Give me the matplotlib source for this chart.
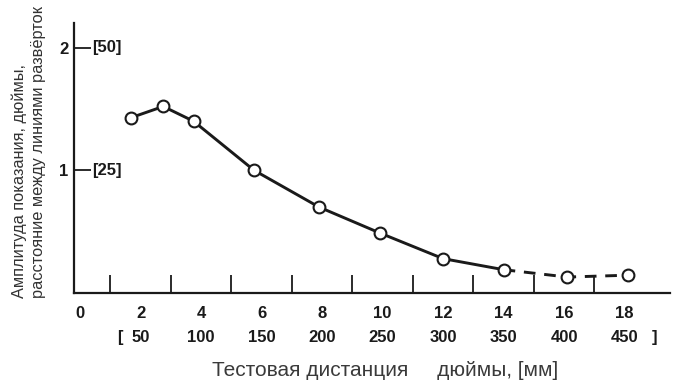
import matplotlib.pyplot as plt
import matplotlib.transforms as mtransforms

plt.rcParams['font.family'] = ['Liberation Sans', 'DejaVu Sans']

# Measured points (inches / amplitude)
dist_in = [1.7, 2.75, 3.75, 5.75, 7.9, 9.9, 12.0, 14.0, 16.1, 18.1]
amp = [1.43, 1.52, 1.40, 1.00, 0.70, 0.49, 0.28, 0.19, 0.13, 0.145]
n_solid = 8  # solid curve up to 14 in, dashed after

even_ticks = [0, 2, 4, 6, 8, 10, 12, 14, 16, 18]
mm_labels = ['50', '100', '150', '200', '250', '300', '350', '400', '450']
y_ticks = [1, 2]
y_mm = ['[25]', '[50]']

ink = '#1a1a1a'
fs = 12

fig = plt.figure(figsize=(6.78, 3.85), dpi=100)
ax = fig.add_axes([74 / 678, 92 / 385, 596 / 678, 270 / 385])

ax.plot(dist_in[:n_solid], amp[:n_solid], color=ink, lw=2.1,
        solid_joinstyle='round', zorder=2)
ax.plot(dist_in[n_solid - 1:], amp[n_solid - 1:], color=ink, lw=2.1,
        dashes=(4, 3), zorder=2)
ax.plot(dist_in, amp, 'o', ms=8.5, mfc='white', mec=ink, mew=1.5, zorder=3)

ax.set_xlim(-0.2, 19.5)
ax.set_ylim(0, 2.2)

for s in ['top', 'right']:
    ax.spines[s].set_visible(False)
for s in ['left', 'bottom']:
    ax.spines[s].set_linewidth(1.6)
    ax.spines[s].set_color(ink)

# x: small upward ticks at every inch, labels at even inches
ax.set_xticks(range(1, 19), minor=True)
ax.set_xticks(even_ticks)
ax.set_xticklabels([str(v) for v in even_ticks], fontweight='bold',
                   fontsize=fs, color=ink)
ax.tick_params(axis='x', which='major', length=0, pad=9)
ax.tick_params(axis='x', which='minor', direction='in', length=13,
               width=1.3, color=ink)

# y: ticks pointing right, labels on left
ax.set_yticks(y_ticks)
ax.set_yticklabels([str(v) for v in y_ticks], fontweight='bold',
                   fontsize=fs, color=ink)
ax.tick_params(axis='y', direction='in', length=12, width=1.3,
               color=ink, pad=4)

ytr = mtransforms.blended_transform_factory(ax.transAxes, ax.transData)
for v, lab in zip(y_ticks, y_mm):
    ax.text(0.031, v, lab, transform=ytr, ha='left', va='center',
            fontweight='bold', fontsize=fs, color=ink)

# second row of x labels in mm
xtr = ax.get_xaxis_transform()
for v, lab in zip(even_ticks[1:], mm_labels):
    ax.text(v, -0.165, lab, transform=xtr, ha='center', va='center',
            fontweight='bold', fontsize=fs, color=ink)
ax.text(1.3, -0.165, '[', transform=xtr, ha='center', va='center',
        fontweight='bold', fontsize=fs, color=ink)
ax.text(19.0, -0.165, ']', transform=xtr, ha='center', va='center',
        fontweight='bold', fontsize=fs, color=ink)

fig.text(385 / 678, 1 - 371 / 385, 'Тестовая дистанция     дюймы, [мм]',
         ha='center', va='center', fontsize=15, color='#3a3a3a')
fig.text(29 / 678, 1 - 298 / 385,
         'Амплитуда показания, дюймы,\nрасстояние между линиями развёрток',
         rotation=90, ha='center', va='bottom', multialignment='left',
         fontsize=11.8, color='#333333', linespacing=1.3)

fig.savefig('out.png', dpi=100)
